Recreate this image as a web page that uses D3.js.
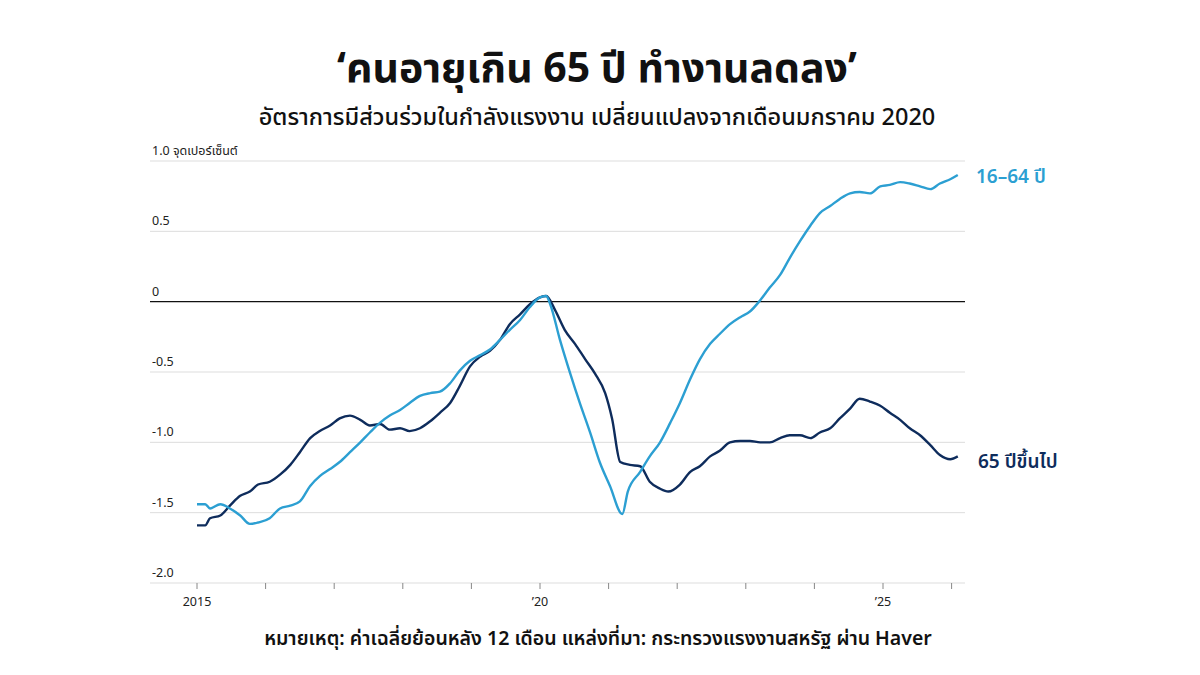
<!DOCTYPE html>
<html><head><meta charset="utf-8">
<script src="https://cdn.jsdelivr.net/npm/d3@7"></script>
<style>body{margin:0;background:#fff;font-family:"Noto Sans Thai","Noto Sans","Open Sans",sans-serif;}</style>
</head><body><div id="chart"></div>
<script>
// years (decimal) and values
var youngYears = [2015.00,2015.12,2015.19,2015.34,2015.48,2015.63,2015.77,2015.89,2016.06,2016.21,2016.36,2016.50,2016.65,2016.79,2016.94,2017.08,2017.23,2017.38,2017.52,2017.67,2017.81,2017.96,2018.10,2018.25,2018.40,2018.54,2018.69,2018.83,2018.98,2019.13,2019.27,2019.42,2019.56,2019.71,2019.85,2020.00,2020.09,2020.15,2020.29,2020.44,2020.58,2020.73,2020.87,2021.02,2021.20,2021.28,2021.46,2021.60,2021.75,2021.90,2022.04,2022.19,2022.33,2022.48,2022.62,2022.77,2022.92,2023.06,2023.21,2023.35,2023.50,2023.64,2023.79,2023.94,2024.08,2024.23,2024.37,2024.52,2024.66,2024.81,2024.96,2025.10,2025.25,2025.39,2025.54,2025.69,2025.83,2025.98,2026.09];
var youngValues = [-1.44,-1.44,-1.47,-1.44,-1.47,-1.52,-1.58,-1.57,-1.54,-1.47,-1.45,-1.42,-1.31,-1.24,-1.19,-1.14,-1.07,-1.00,-0.93,-0.86,-0.81,-0.77,-0.72,-0.67,-0.65,-0.64,-0.58,-0.49,-0.42,-0.38,-0.34,-0.27,-0.20,-0.13,-0.04,0.03,0.04,-0.02,-0.27,-0.51,-0.72,-0.93,-1.14,-1.31,-1.51,-1.35,-1.21,-1.10,-1.00,-0.86,-0.72,-0.55,-0.41,-0.30,-0.23,-0.16,-0.11,-0.07,0.01,0.10,0.19,0.31,0.43,0.54,0.63,0.68,0.73,0.77,0.78,0.77,0.82,0.83,0.85,0.84,0.82,0.80,0.84,0.87,0.90];
var oldYears = [2015.00,2015.12,2015.19,2015.34,2015.48,2015.63,2015.77,2015.89,2016.06,2016.21,2016.36,2016.50,2016.65,2016.79,2016.94,2017.08,2017.23,2017.38,2017.52,2017.67,2017.81,2017.96,2018.10,2018.25,2018.40,2018.54,2018.69,2018.83,2018.98,2019.13,2019.27,2019.42,2019.56,2019.71,2019.85,2020.00,2020.09,2020.22,2020.36,2020.51,2020.66,2020.80,2020.95,2021.05,2021.17,2021.31,2021.46,2021.60,2021.75,2021.87,2022.04,2022.19,2022.33,2022.48,2022.62,2022.77,2022.92,2023.06,2023.21,2023.35,2023.50,2023.64,2023.79,2023.94,2024.08,2024.23,2024.37,2024.52,2024.66,2024.81,2024.96,2025.10,2025.25,2025.39,2025.54,2025.69,2025.83,2025.98,2026.09];
var oldValues = [-1.59,-1.59,-1.54,-1.52,-1.45,-1.38,-1.35,-1.30,-1.28,-1.23,-1.16,-1.07,-0.97,-0.92,-0.88,-0.83,-0.81,-0.84,-0.88,-0.87,-0.91,-0.90,-0.92,-0.90,-0.85,-0.79,-0.72,-0.60,-0.46,-0.39,-0.35,-0.27,-0.16,-0.09,-0.02,0.03,0.04,-0.06,-0.20,-0.30,-0.41,-0.51,-0.65,-0.83,-1.14,-1.16,-1.17,-1.28,-1.33,-1.35,-1.30,-1.21,-1.17,-1.10,-1.06,-1.00,-0.99,-0.99,-1.00,-1.00,-0.97,-0.95,-0.95,-0.97,-0.93,-0.90,-0.83,-0.76,-0.69,-0.71,-0.74,-0.79,-0.84,-0.90,-0.95,-1.02,-1.09,-1.12,-1.10];
var yTicks = [1.0,0.5,0,-0.5,-1.0,-1.5,-2.0];
var yTickLabels = ["1.0 จุดเปอร์เซ็นต์","0.5","0","-0.5","-1.0","-1.5","-2.0"];
var xTicks = [2015,2016,2017,2018,2019,2020,2021,2022,2023,2024,2025,2026];
var xTickLabels = {2015:"2015",2020:"’20",2025:"’25"};

var W = 1200, H = 675;
var svg = d3.select("#chart").append("svg").attr("width", W).attr("height", H);
var x = d3.scaleLinear().domain([2015, 2026]).range([197, 951.6]);
var y = d3.scaleLinear().domain([-2, 1]).range([583, 161]);
var left = 150, right = 965;

svg.append("text").attr("x", 597).attr("y", 82).attr("text-anchor", "middle")
  .attr("font-size", 41).attr("font-weight", 700).attr("fill", "#111")
  .text("‘คนอายุเกิน 65 ปี ทำงานลดลง’");
svg.append("text").attr("x", 597).attr("y", 125).attr("text-anchor", "middle")
  .attr("font-size", 23.5).attr("font-weight", 500).attr("fill", "#111")
  .text("อัตราการมีส่วนร่วมในกำลังแรงงาน เปลี่ยนแปลงจากเดือนมกราคม 2020");

var g = svg.append("g");
yTicks.forEach(function(t, i) {
  g.append("line").attr("x1", left).attr("x2", right).attr("y1", y(t)).attr("y2", y(t))
    .attr("stroke", t === 0 ? "#111" : "#ddd").attr("stroke-width", t === 0 ? 1.2 : 1);
  g.append("text").attr("x", left + 2).attr("y", y(t) - 6).attr("font-size", 12.5)
    .attr("fill", "#222").text(yTickLabels[i]);
});

xTicks.forEach(function(t) {
  g.append("line").attr("x1", x(t)).attr("x2", x(t)).attr("y1", 583).attr("y2", 589)
    .attr("stroke", "#888");
  if (xTickLabels[t]) g.append("text").attr("x", x(t)).attr("y", 606).attr("text-anchor", "middle")
    .attr("font-size", 12.5).attr("fill", "#222").text(xTickLabels[t]);
});

var line = d3.line().x(function(d) { return x(d[0]); }).y(function(d) { return y(d[1]); }).curve(d3.curveMonotoneX);
var young = d3.zip(youngYears, youngValues), old = d3.zip(oldYears, oldValues);
svg.append("path").datum(old).attr("d", line).attr("fill", "none").attr("stroke", "#0e2c5c").attr("stroke-width", 2.4);
svg.append("path").datum(young).attr("d", line).attr("fill", "none").attr("stroke", "#2c9fd2").attr("stroke-width", 2.4);

svg.append("text").attr("x", 976).attr("y", 183).attr("font-size", 19).attr("font-weight", 600)
  .attr("fill", "#2c9fd2").text("16–64 ปี");
svg.append("text").attr("x", 978).attr("y", 468).attr("font-size", 19).attr("font-weight", 600)
  .attr("fill", "#0e2c5c").text("65 ปีขึ้นไป");

svg.append("text").attr("x", 598).attr("y", 645).attr("text-anchor", "middle")
  .attr("font-size", 19.5).attr("font-weight", 600).attr("fill", "#111")
  .text("หมายเหตุ: ค่าเฉลี่ยย้อนหลัง 12 เดือน แหล่งที่มา: กระทรวงแรงงานสหรัฐ ผ่าน Haver");
</script></body></html>
